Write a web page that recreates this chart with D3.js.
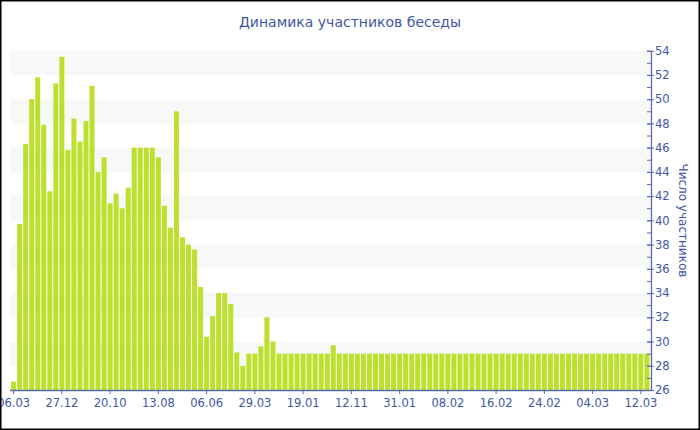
<!DOCTYPE html>
<html>
<head>
<meta charset="utf-8">
<script src="https://cdn.jsdelivr.net/npm/d3@7"></script>
<style>
  html, body { margin: 0; padding: 0; background: #fff; }
  svg { display: block; }
  text { font-family: "DejaVu Sans", Verdana, sans-serif; }
</style>
</head>
<body>
<svg id="chart" width="700" height="430"></svg>
<script>
// ---- data ----
const titleText = "Динамика участников беседы";
const yAxisTitle = "Число участников";
const tickLabels = ["06.03","27.12","20.10","13.08","06.06","29.03","19.01","12.11","31.01","08.02","16.02","24.02","04.03","12.03"];
const values = [
  26.7, 39.7, 46.3, 50.0, 51.8, 47.9, 42.4, 51.3, 53.5, 45.8,
  48.4, 46.5, 48.2, 51.1, 44.0, 45.2, 41.4, 42.2, 41.0, 42.7,
  46.0, 46.0, 46.0, 46.0, 45.2, 41.2, 39.4, 49.0, 38.6, 38.0,
  37.6, 34.5, 30.4, 32.1, 34.0, 34.0, 33.1, 29.1, 28.0, 29.0,
  29.0, 29.6, 32.0, 30.0, 29.0, 29.0, 29.0, 29.0, 29.0, 29.0,
  29.0, 29.0, 29.0, 29.7, 29.0, 29.0, 29.0, 29.0, 29.0, 29.0,
  29.0, 29.0, 29.0, 29.0, 29.0, 29.0, 29.0, 29.0, 29.0, 29.0,
  29.0, 29.0, 29.0, 29.0, 29.0, 29.0, 29.0, 29.0, 29.0, 29.0,
  29.0, 29.0, 29.0, 29.0, 29.0, 29.0, 29.0, 29.0, 29.0, 29.0,
  29.0, 29.0, 29.0, 29.0, 29.0, 29.0, 29.0, 29.0, 29.0, 29.0,
  29.0, 29.0, 29.0, 29.0, 29.0, 29.0
];
const categories = values.map((v, i) => i);
const labelEvery = 8;
const yMin = 26, yMax = 54;

// ---- layout ----
const svg = d3.select("#chart");
const W = 700, H = 430;
const plot = { left: 10, right: 651, top: 50.7, bottom: 390 };
const textColor = "#3f56a5";
const axisColor = "#5a6aaa";

const x = d3.scaleBand().domain(categories).range([10.5, 650]).paddingInner(0.17).paddingOuter(0.1);
const y = d3.scaleLinear().domain([yMin, yMax]).range([plot.bottom, plot.top]);

// background
svg.append("rect").attr("x", 0).attr("y", 0).attr("width", W).attr("height", H).attr("fill", "#fff");

// grid bands
const bandStarts = d3.range(yMin + 2, yMax, 4); // 28,32,...,52
svg.append("g").selectAll("rect").data(bandStarts).join("rect")
  .attr("x", plot.left)
  .attr("width", plot.right - plot.left)
  .attr("y", d => y(d + 2))
  .attr("height", d => y(d) - y(d + 2))
  .attr("fill", "#f8f8f8");

// bars
svg.append("g").selectAll("rect").data(values).join("rect")
  .attr("x", (d, i) => x(categories[i]))
  .attr("width", x.bandwidth())
  .attr("y", d => y(d))
  .attr("height", d => y(yMin) - y(d))
  .attr("fill", "#bde02f");

// x axis
const tickCats = categories.filter(c => c % labelEvery === 0);
const xAxis = d3.axisBottom(x).tickValues(tickCats)
  .tickFormat(c => tickLabels[c / labelEvery]).tickSize(4).tickSizeOuter(0);
const gx = svg.append("g").attr("transform", `translate(0,${plot.bottom})`).call(xAxis);
gx.select(".domain").attr("d", `M${plot.left},0.5H${plot.right}`).attr("stroke", axisColor).attr("stroke-width", 1.3);
gx.selectAll(".tick line").attr("stroke", axisColor);
gx.selectAll(".tick text").attr("fill", textColor).attr("font-size", 11.5).attr("dy", "0.9em")
  .attr("font-family", "DejaVu Sans");

// y axis (right) - minor ticks
const gyMinor = svg.append("g").attr("transform", `translate(${plot.right},0)`)
  .call(d3.axisRight(y).tickValues(d3.range(yMin, yMax + 1, 1)).tickSize(-4).tickFormat(""));
gyMinor.select(".domain").remove();
gyMinor.selectAll(".tick line").attr("stroke", axisColor);

const gy = svg.append("g").attr("transform", `translate(${plot.right},0)`)
  .call(d3.axisRight(y).tickValues(d3.range(yMin, yMax + 1, 2)).tickSize(3).tickPadding(1).tickSizeOuter(0));
gy.select(".domain").attr("stroke", axisColor).attr("stroke-width", 1.3);
gy.selectAll(".tick line").attr("stroke", axisColor).attr("x1", -4);
gy.selectAll(".tick text").attr("fill", textColor).attr("font-size", 11.5).attr("font-family", "DejaVu Sans");

// axis title
svg.append("text")
  .attr("transform", `translate(682,${(plot.top + plot.bottom) / 2}) rotate(90)`)
  .attr("text-anchor", "middle")
  .attr("dominant-baseline", "middle")
  .attr("fill", textColor)
  .attr("font-size", 12)
  .text(yAxisTitle);

// title
svg.append("text")
  .attr("x", 350).attr("y", 27)
  .attr("text-anchor", "middle")
  .attr("fill", textColor)
  .attr("font-size", 14)
  .text(titleText);

// border
svg.append("rect").attr("x", 0.75).attr("y", 0.75).attr("width", W - 1.5).attr("height", H - 1.5)
  .attr("fill", "none").attr("stroke", "#000").attr("stroke-width", 1.5);
</script>
</body>
</html>
